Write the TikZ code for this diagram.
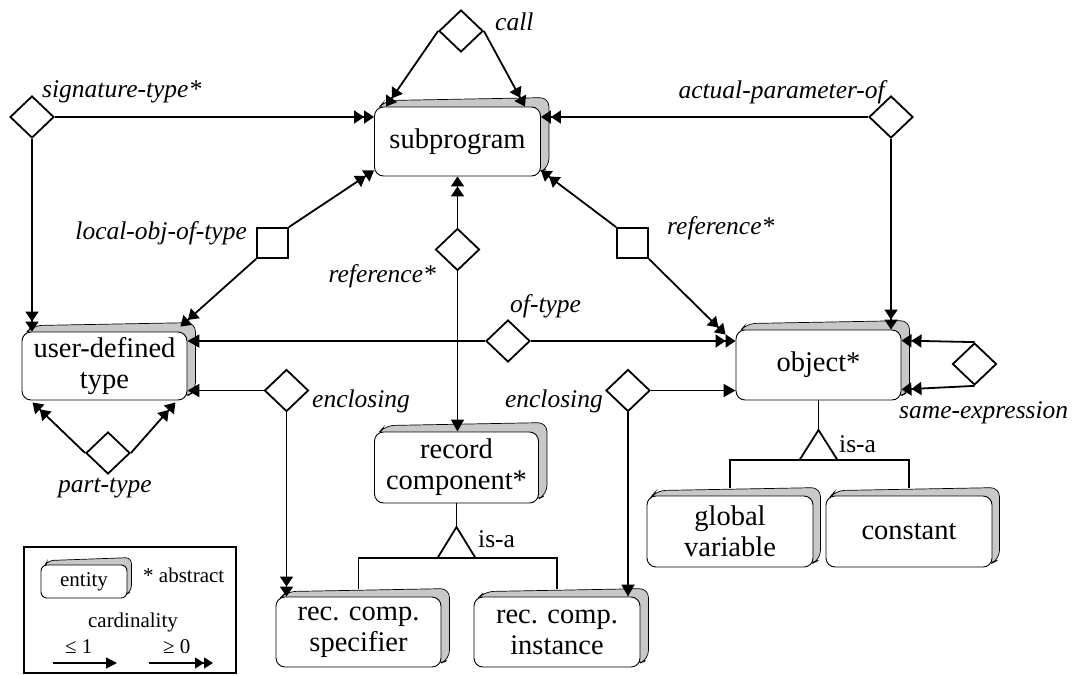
\documentclass[tikz,border=0pt]{standalone}
\usepackage{fontspec}
\setmainfont{Liberation Serif}
\usetikzlibrary{arrows.meta,shapes.geometric,calc}
\pgfdeclarelayer{background}
\pgfsetlayers{background,main}
\definecolor{shadegray}{RGB}{200,200,200}

% grey extruded back face behind an entity node: name, dx, dy, corner radius
\newcommand{\slab}[4]{%
  \path[fill=shadegray, draw=black, line width=0.7pt, rounded corners=#4]
    ($(#1.north west)+(3,3)$) -- ++(#2,#3) -- ($(#1.north east)+(#2,#3)$)
    -- ($(#1.south east)+(#2,#3)$) -- ($(#1.south east)+(-3,-3)$) -- cycle;}

\begin{document}
\begin{tikzpicture}[x=1pt,y=-1pt,
  entity/.style={draw, line width=0.9pt, rounded corners=9pt, fill=white,
    align=center, inner sep=0pt, font=\fontsize{28.5}{31}\selectfont},
  rel/.style={diamond, draw, line width=1.8pt, fill=white,
    minimum width=44pt, minimum height=42pt, inner sep=0pt},
  wk/.style={rectangle, draw, line width=1.8pt, fill=white,
    minimum width=31pt, minimum height=30pt, inner sep=0pt},
  lbl/.style={font=\fontsize{25.5}{28}\selectfont\itshape, inner sep=0pt},
  isalbl/.style={font=\fontsize{25.5}{28}\selectfont, inner sep=0pt},
  legtxt/.style={font=\fontsize{21}{24}\selectfont, inner sep=0pt},
  conn/.style={line width=1.8pt},
  tipone/.style={-{Triangle[length=12pt,width=13pt]}},
  tipmany/.style={-{Triangle[length=10pt,width=13pt]Triangle[length=10pt,width=13pt]}},
]
\useasboundingbox (0,0) rectangle (1076,675);

% entities
\node[entity, minimum width=166pt, minimum height=69pt] (sub) at (457.5,141.5) {subprogram};
\node[entity, minimum width=165pt, minimum height=68pt] (udt) at (104.5,366) {user-defined\\type};
\node[entity, minimum width=165pt, minimum height=70pt] (obj) at (818.5,365) {object*};
\node[entity, minimum width=164pt, minimum height=71pt] (rec) at (456.5,467.5) {record\\component*};
\node[entity, minimum width=165pt, minimum height=70pt] (spec) at (358.5,632) {rec. comp.\\specifier};
\node[entity, minimum width=166pt, minimum height=70pt] (inst) at (557,632) {rec. comp.\\instance};
\node[entity, minimum width=166pt, minimum height=71pt] (gvar) at (730,531.5) {global\\variable};
\node[entity, minimum width=166pt, minimum height=71pt] (const) at (909,531.5) {constant};

% relationships
\node[rel] (callD) at (461,31) {};
\node[rel] (sigD) at (32,117) {};
\node[rel] (apD) at (891,117) {};
\node[rel] (refD) at (457.5,249.5) {};
\node[rel] (oftD) at (508,341) {};
\node[rel] (encL) at (286.5,390.5) {};
\node[rel] (encR) at (628,390.5) {};
\node[rel] (seD) at (974.5,364) {};
\node[rel] (ptD) at (108,453) {};
\node[wk] (lotS) at (272.5,243) {};
\node[wk] (refS) at (632.5,243) {};

% relationship labels
\node[lbl, anchor=base west] (callL) at (495,30) {call};
\node[lbl, anchor=base west] (sigL) at (42,97) {signature-type*};
\node[lbl, anchor=base east] (apL) at (885,98) {actual-parameter-of};
\node[lbl, anchor=base east] (lotL) at (247,239) {local-obj-of-type};
\node[lbl, anchor=base east] (refDL) at (436,282) {reference*};
\node[lbl, anchor=base west] (refSL) at (667,234) {reference*};
\node[lbl, anchor=base west] (oftL) at (510,312) {of-type};
\node[lbl, anchor=base west] (encLL) at (312,407) {enclosing};
\node[lbl, anchor=base east] (encRL) at (603,407) {enclosing};
\node[lbl, anchor=base west] (seL) at (899,418) {same-expression};
\node[lbl, anchor=base west] (ptL) at (58,492) {part-type};

% connectors
\draw[conn,tipmany] (callD.west) -- ($(sub.north west)+(12,0)$);
\draw[conn,tipmany] (callD.east) -- ($(sub.north east)+(-16,0)$);
\draw[conn,tipmany] (sigD.east) -- (sigD.east -| sub.west);
\draw[conn,tipmany] (sigD.south) -- (sigD.south |- udt.north);
\draw[conn,tipmany] (lotS.north east) -- ($(sub.south west)+(0,-6)$);
\draw[conn,tipmany] (lotS.south west) -- ($(udt.north east)+(-7,-5)$);
\draw[conn,tipmany] (refD.north) -- (refD.north |- sub.south);
\draw[conn,tipone] (refD.south) -- (refD.south |- rec.north);
\draw[conn,tipmany] (refS.north west) -- ($(sub.south east)+(0,-6)$);
\draw[conn,tipmany] (refS.south east) -- ($(obj.north west)+(-10,5)$);
\draw[conn,tipmany] (apD.west) -- (apD.west -| sub.east);
\draw[conn,tipmany] (apD.south) -- (apD.south |- obj.north);
\draw[conn,tipone] (oftD.west) -- (oftD.west -| udt.east);
\draw[conn,tipmany] (oftD.east) -- (oftD.east -| obj.west);
\draw[conn,tipone] (encL.west) -- (encL.west -| udt.east);
\draw[conn,tipmany] (encL.south) -- (encL.south |- spec.north);
\draw[conn,tipone] (encR.east) -- (encR.east -| obj.west);
\draw[conn,tipone] (encR.south) -- (encR.south |- inst.north);
\draw[conn,tipmany] (seD.north) -- ($(obj.north east)+(0,11)$);
\draw[conn,tipmany] (seD.south) -- ($(obj.south east)+(0,-11)$);
\draw[conn,tipmany] (ptD.west) -- ($(udt.south west)+(11,2)$);
\draw[conn,tipmany] (ptD.east) -- ($(udt.south east)+(-12,2)$);

% is-a hierarchy under record component
\coordinate (isaR) at (456.5,558);
\draw[conn] (rec.south) -- ($(isaR)+(0,-31)$);
\draw[conn, line join=miter] ($(isaR)+(-19,0)$) -- ($(isaR)+(0,-31)$) -- ($(isaR)+(19,0)$);
\draw[conn] ($(spec.north)+(0,-8)$) -- (spec.north |- isaR) -- (inst.north |- isaR) -- ($(inst.north)+(0,-8)$);
\node[isalbl, anchor=base west] (isaRL) at (478,547) {is-a};

% is-a hierarchy under object
\coordinate (isaO) at (818.5,460);
\draw[conn] (obj.south) -- ($(isaO)+(0,-30)$);
\draw[conn, line join=miter] ($(isaO)+(-19,0)$) -- ($(isaO)+(0,-30)$) -- ($(isaO)+(19,0)$);
\draw[conn] ($(gvar.north)+(0,-8)$) -- (gvar.north |- isaO) -- (const.north |- isaO) -- ($(const.north)+(0,-8)$);
\node[isalbl, anchor=base west] (isaOL) at (839,452) {is-a};

% legend
\node[draw, line width=1.8pt, minimum width=212pt, minimum height=126pt, inner sep=0pt] (legend) at (130,610) {};
\node[entity, font=\fontsize{21}{24}\selectfont, rounded corners=6pt,
  minimum width=86pt, minimum height=33pt] (lent) at (84,581.5) {entity};
\node[legtxt, anchor=base west] (labs) at (143,582) {* abstract};
\node[legtxt, anchor=base] (lcard) at (133,627) {cardinality};
\node[legtxt, anchor=base west] (lle) at (65,653) {≤ 1};
\node[legtxt, anchor=base west] (lge) at (163,653) {≥ 0};
\coordinate (aones) at (53,663);
\coordinate (aonee) at (117,663);
\coordinate (amanys) at (149,663);
\coordinate (amanye) at (213,663);
\draw[line width=1.4pt, -{Triangle[length=11pt,width=11pt]}] (aones) -- (aonee);
\draw[line width=1.4pt, -{Triangle[length=9pt,width=11pt]Triangle[length=9pt,width=11pt]}] (amanys) -- (amanye);

% extruded back faces
\begin{pgfonlayer}{background}
  \slab{sub}{8}{-9}{9pt}
  \slab{udt}{8}{-9}{9pt}
  \slab{obj}{8}{-9}{9pt}
  \slab{rec}{8}{-9}{9pt}
  \slab{spec}{8}{-8}{9pt}
  \slab{inst}{8}{-8}{9pt}
  \slab{gvar}{7}{-8}{9pt}
  \slab{const}{7}{-8}{9pt}
  \slab{lent}{4}{-7}{6pt}
\end{pgfonlayer}
\end{tikzpicture}
\end{document}
